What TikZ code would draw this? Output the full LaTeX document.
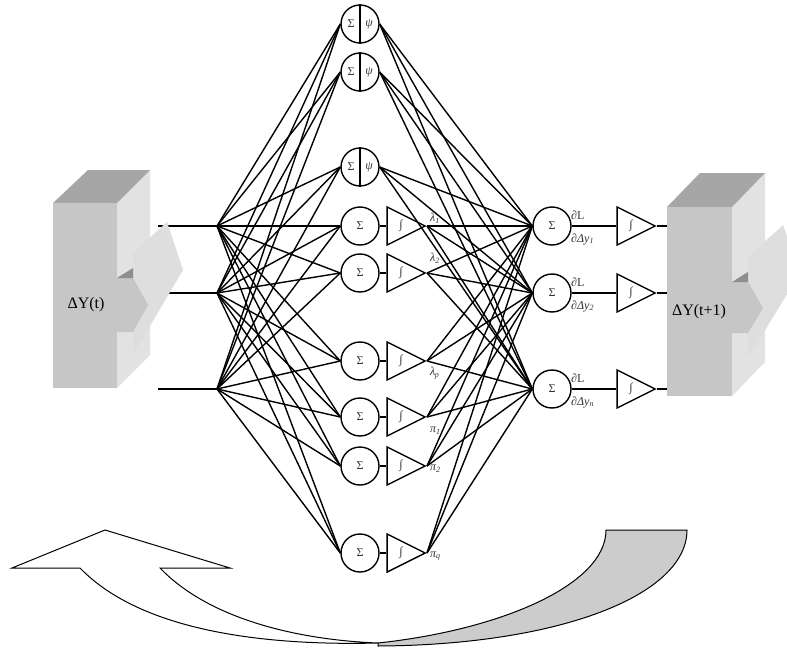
\documentclass[tikz,border=0pt]{standalone}
\usepackage{fontspec}
\setmainfont{Liberation Serif}
\usetikzlibrary{shapes.geometric}
\definecolor{facefront}{HTML}{C6C6C6}
\definecolor{facetop}{HTML}{A6A6A6}
\definecolor{faceside}{HTML}{E2E2E2}
\definecolor{chevron}{HTML}{DEDEDE}
\definecolor{notch}{HTML}{8E8E8E}
\definecolor{ribbon}{HTML}{CCCCCC}
\definecolor{symgray}{HTML}{333333}
\begin{document}
\begin{tikzpicture}[x=1pt,y=-1pt,
  link/.style={line width=1.4pt},
  neuron/.style={circle,draw,line width=1.4pt,minimum size=38pt,inner sep=0pt,
    font=\fontsize{12}{12}\selectfont,text=symgray},
  integ/.style={isosceles triangle,isosceles triangle stretches,shape border rotate=0,
    draw,line width=1.4pt,minimum width=38pt,minimum height=38pt,inner sep=0pt,anchor=apex},
  sym/.style={inner sep=0pt,font=\fontsize{12}{12}\selectfont,text=symgray},
  wlabel/.style={inner sep=0pt,font=\fontsize{12}{12}\selectfont\itshape,text=symgray,anchor=west},
  boxlabel/.style={inner sep=0pt,font=\fontsize{16}{16}\selectfont},
]
\useasboundingbox (0,0) rectangle (787,650);

% ---- feedback arrow at the bottom ----
\path[draw,line width=1pt,fill=white] (12,568) -- (105,530) -- (230,568) -- (160,568)
  .. controls (210,620) and (300,640) .. (378,643)
  .. controls (260,646) and (140,630) .. (80,568) -- cycle;
\path[draw,line width=1pt,fill=ribbon] (378,643)
  .. controls (500,630) and (606,585) .. (606,530) -- (687,530)
  .. controls (687,595) and (560,645) .. (378,646) -- cycle;

% ---- input taps ----
\foreach \k/\y in {1/226,2/293,3/389} {
  \coordinate (in\k) at (217,\y);
  \coordinate (src\k) at (158,\y);
  \draw[link] (src\k) -- (in\k);
}

% ---- hidden layer: Sigma-psi units ----
\foreach \n/\y in {1/24,2/72,3/167} {
  \node[neuron] (h\n) at (360,\y) {};
  \draw[link] (h\n.north) -- (h\n.south);
  \node[sym] (hs\n) at (351,\y) {Σ};
  \node[sym] (hp\n) at (369,\y) {\itshape ψ};
  \coordinate (out\n) at (h\n.east);
}
% ---- hidden layer: Sigma units with integrators ----
\foreach \n/\y in {4/226,5/273,6/361,7/417,8/466,9/553} {
  \node[neuron] (h\n) at (360,\y) {Σ};
  \node[integ] (t\n) at (427,\y) {};
  \node[sym] (ts\n) at (401,\y) {∫};
  \draw[link] (h\n.east) -- (t\n.lower side);
  \coordinate (out\n) at (t\n.apex);
}

% ---- output layer ----
\foreach \k/\y in {1/226,2/293,3/389} {
  \node[neuron] (o\k) at (552,\y) {Σ};
  \node[integ] (ot\k) at (657,\y) {};
  \node[sym] (ots\k) at (631,\y) {∫};
  \coordinate (dst\k) at (668,\y);
  \draw[link] (o\k.east) -- (ot\k.lower side);
  \draw[link] (ot\k.apex) -- (dst\k);
}

% ---- full connections ----
\foreach \k in {1,2,3} {
  \foreach \n in {1,...,9} {
    \draw[link] (in\k) -- (h\n.west);
    \draw[link] (out\n) -- (o\k.west);
  }
}

% ---- multiplier labels ----
\node[wlabel] (l1) at (430,218) {λ\textsubscript{1}};
\node[wlabel] (l2) at (430,258) {λ\textsubscript{2}};
\node[wlabel] (lp) at (430,373) {λ\textsubscript{\kern-0.5pt p}};
\node[wlabel] (p1) at (430,431) {π\textsubscript{1}};
\node[wlabel] (p2) at (430,469) {π\textsubscript{2}};
\node[wlabel] (pq) at (430,556) {π\textsubscript{q}};

% ---- gradient labels ----
\foreach \k/\y/\s in {1/226/1,2/293/2,3/389/n} {
  \node[wlabel] (gn\k) at (571,\y-11) {∂\upshape L};
  \node[wlabel] (gd\k) at (571,\y+13) {∂Δy\textsubscript{\s}};
}

% ---- input block ----
\fill[faceside] (117,203) -- (150,170) -- (150,355) -- (117,388) -- cycle;
\fill[facetop] (53,203) -- (88,170) -- (150,170) -- (117,203) -- cycle;
\fill[facefront] (53,203) rectangle (117,388);
\fill[chevron] (133,253) -- (167,222) -- (183,270) -- (133,355) -- cycle;
\fill[facefront] (117,278) -- (133,278) -- (148,305) -- (133,332) -- (117,332) -- cycle;
\fill[notch] (117,278) -- (133,268) -- (133,278) -- cycle;
\node[boxlabel] (inlabel) at (86,305) {ΔY(t)};

% ---- output block ----
\fill[faceside] (732,207) -- (765,173) -- (765,362) -- (732,396) -- cycle;
\fill[facetop] (667,207) -- (700,173) -- (765,173) -- (732,207) -- cycle;
\fill[facefront] (667,207) rectangle (732,396);
\fill[chevron] (748,257) -- (783,225) -- (800,273) -- (748,358) -- cycle;
\fill[facefront] (732,282) -- (748,282) -- (763,308) -- (748,333) -- (732,333) -- cycle;
\fill[notch] (732,282) -- (748,272) -- (748,282) -- cycle;
\node[boxlabel] (outlabel) at (699,312) {ΔY(t+1)};
\end{tikzpicture}
\end{document}
